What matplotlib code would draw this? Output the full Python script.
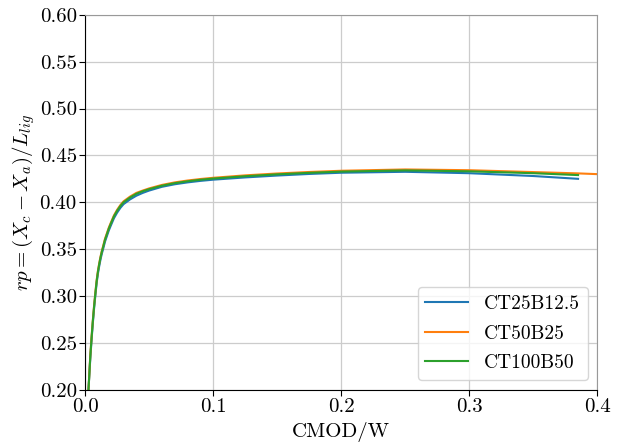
import matplotlib
matplotlib.use('Agg')
import matplotlib.pyplot as plt
import numpy as np

plt.rcParams['font.family'] = 'cmr10'
plt.rcParams['mathtext.fontset'] = 'cm'
plt.rcParams['axes.formatter.use_mathtext'] = True
plt.rcParams['font.size'] = 15

# CMOD/W sample points
x_short = [0.0026, 0.004, 0.005, 0.006, 0.007, 0.008, 0.009, 0.010, 0.011, 0.012,
           0.013, 0.014, 0.0155, 0.017, 0.0185, 0.020, 0.0225, 0.025, 0.0275,
           0.030, 0.035, 0.040, 0.045, 0.050, 0.060, 0.070, 0.080, 0.090, 0.100,
           0.125, 0.150, 0.175, 0.200, 0.250, 0.300, 0.350, 0.385]
x_long = x_short + [0.400]

rp_ct25 = [0.200, 0.233, 0.253, 0.271, 0.287, 0.301, 0.314, 0.324, 0.332, 0.339,
           0.345, 0.350, 0.358, 0.364, 0.370, 0.375, 0.383, 0.389, 0.394,
           0.398, 0.403, 0.407, 0.410, 0.4125, 0.4165, 0.4192, 0.4212, 0.4228, 0.4241,
           0.4265, 0.4285, 0.4302, 0.4315, 0.4325, 0.4310, 0.4280, 0.4250]
rp_ct50 = [0.200, 0.236, 0.256, 0.274, 0.290, 0.304, 0.317, 0.327, 0.335, 0.342,
           0.348, 0.353, 0.361, 0.367, 0.373, 0.378, 0.386, 0.392, 0.397,
           0.401, 0.406, 0.410, 0.4125, 0.4148, 0.4185, 0.4212, 0.4232, 0.4248, 0.4261,
           0.4287, 0.4307, 0.4323, 0.4336, 0.4350, 0.4342, 0.4322, 0.4308, 0.4300]
rp_ct100 = [0.200, 0.235, 0.255, 0.273, 0.289, 0.303, 0.316, 0.326, 0.334, 0.341,
            0.347, 0.352, 0.360, 0.366, 0.372, 0.377, 0.385, 0.391, 0.396,
            0.400, 0.405, 0.409, 0.4118, 0.4140, 0.4177, 0.4204, 0.4224, 0.4240, 0.4253,
            0.4278, 0.4298, 0.4314, 0.4327, 0.4340, 0.4330, 0.4310, 0.4290]

labels = ['CT25B12.5', 'CT50B25', 'CT100B50']

fig = plt.figure(figsize=(6.17, 4.47), dpi=100)
ax = fig.add_axes([0.138, 0.128, 0.830, 0.839])

ax.plot(x_short, rp_ct25, color='#1f77b4', lw=1.5, label=labels[0])
ax.plot(x_long, rp_ct50, color='#ff7f0e', lw=1.5, label=labels[1])
ax.plot(x_short, rp_ct100, color='#2ca02c', lw=1.5, label=labels[2])

ax.set_xlim(0, 0.4)
ax.set_ylim(0.2, 0.6)
ax.set_xticks([0.0, 0.1, 0.2, 0.3, 0.4])
ax.set_yticks(np.arange(0.20, 0.601, 0.05))
ax.set_yticklabels(['%.2f' % v for v in np.arange(0.20, 0.601, 0.05)])
ax.set_xticklabels(['0.0', '0.1', '0.2', '0.3', '0.4'])
ax.grid(True, color='#cccccc', lw=0.9)
ax.set_axisbelow(True)

for s in ['top', 'right']:
    ax.spines[s].set_color('#999999')
ax.tick_params(top=False, right=False, length=4, pad=2)

ax.set_xlabel('CMOD/W', labelpad=4)
ax.set_ylabel(r'$rp = (X_c - X_a)/L_{lig}$', labelpad=2)

ax.legend(loc='lower right', fontsize=14, handlelength=2.2, labelspacing=0.6)

fig.savefig('out.png', dpi=100)
